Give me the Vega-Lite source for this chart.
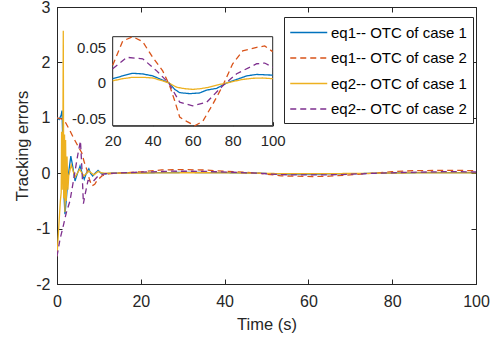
{
 "$schema": "https://vega.github.io/schema/vega-lite/v6.json",
 "width": 419, "height": 277,
 "autosize": {"type": "none"},
 "padding": {"left": 57, "top": 7, "right": 24, "bottom": 58},
 "background": "white",
 "config": {
  "view": {"stroke": "#262626", "strokeWidth": 1},
  "font": "Liberation Sans",
  "axis": {"domainColor": "#262626", "tickColor": "#262626", "labelColor": "#262626", "titleColor": "#262626", "grid": false, "labelFont": "Liberation Sans", "titleFont": "Liberation Sans", "labelFontSize": 16, "titleFontSize": 16.5, "titleFontWeight": "normal", "tickSize": -5, "labelPadding": 12, "labelFlush": false, "labelOverlap": false}
 },
 "data": {"values": [
  {"s":"eq1-- OTC of case 1","t":0,"e":1.0},{"s":"eq1-- OTC of case 1","t":0.5,"e":0.97},{"s":"eq1-- OTC of case 1","t":1.0,"e":1.05},{"s":"eq1-- OTC of case 1","t":1.2,"e":1.13},{"s":"eq1-- OTC of case 1","t":1.4,"e":0.5},{"s":"eq1-- OTC of case 1","t":1.6,"e":-0.3},{"s":"eq1-- OTC of case 1","t":1.9,"e":-0.74},{"s":"eq1-- OTC of case 1","t":2.2,"e":-0.5},{"s":"eq1-- OTC of case 1","t":2.6,"e":-0.1},{"s":"eq1-- OTC of case 1","t":3.3,"e":0.31},{"s":"eq1-- OTC of case 1","t":3.8,"e":0.1},{"s":"eq1-- OTC of case 1","t":4.3,"e":-0.14},{"s":"eq1-- OTC of case 1","t":4.9,"e":0.0},{"s":"eq1-- OTC of case 1","t":5.5,"e":0.13},{"s":"eq1-- OTC of case 1","t":6.0,"e":0.0},{"s":"eq1-- OTC of case 1","t":6.5,"e":-0.11},{"s":"eq1-- OTC of case 1","t":7.0,"e":0.0},{"s":"eq1-- OTC of case 1","t":7.6,"e":0.08},{"s":"eq1-- OTC of case 1","t":8.0,"e":0.0},{"s":"eq1-- OTC of case 1","t":8.5,"e":-0.05},{"s":"eq1-- OTC of case 1","t":9.1,"e":0.0},{"s":"eq1-- OTC of case 1","t":9.8,"e":0.05},{"s":"eq1-- OTC of case 1","t":10.5,"e":0.0},{"s":"eq1-- OTC of case 1","t":11.5,"e":-0.01},{"s":"eq1-- OTC of case 1","t":13,"e":0.0},{"s":"eq1-- OTC of case 1","t":16,"e":0.003},{"s":"eq1-- OTC of case 1","t":20,"e":0.006},{"s":"eq1-- OTC of case 1","t":25,"e":0.010},{"s":"eq1-- OTC of case 1","t":30,"e":0.0136},{"s":"eq1-- OTC of case 1","t":35,"e":0.0127},{"s":"eq1-- OTC of case 1","t":40,"e":0.010},{"s":"eq1-- OTC of case 1","t":45,"e":0.004},{"s":"eq1-- OTC of case 1","t":48.3,"e":0.0},{"s":"eq1-- OTC of case 1","t":51,"e":-0.009},{"s":"eq1-- OTC of case 1","t":53.5,"e":-0.0136},{"s":"eq1-- OTC of case 1","t":58.5,"e":-0.015},{"s":"eq1-- OTC of case 1","t":63.5,"e":-0.014},{"s":"eq1-- OTC of case 1","t":67,"e":-0.010},{"s":"eq1-- OTC of case 1","t":72,"e":-0.0075},{"s":"eq1-- OTC of case 1","t":77,"e":0.0},{"s":"eq1-- OTC of case 1","t":82,"e":0.005},{"s":"eq1-- OTC of case 1","t":87,"e":0.010},{"s":"eq1-- OTC of case 1","t":92,"e":0.012},{"s":"eq1-- OTC of case 1","t":100,"e":0.011},

  {"s":"eq1-- OTC of case 2","t":0,"e":1.0},{"s":"eq1-- OTC of case 2","t":0.5,"e":0.99},{"s":"eq1-- OTC of case 2","t":1.0,"e":0.98},{"s":"eq1-- OTC of case 2","t":1.5,"e":0.97},{"s":"eq1-- OTC of case 2","t":2,"e":0.92},{"s":"eq1-- OTC of case 2","t":3,"e":0.78},{"s":"eq1-- OTC of case 2","t":4,"e":0.63},{"s":"eq1-- OTC of case 2","t":5,"e":0.49},{"s":"eq1-- OTC of case 2","t":5.9,"e":0.37},{"s":"eq1-- OTC of case 2","t":6.5,"e":0.2},{"s":"eq1-- OTC of case 2","t":7.1,"e":0.07},{"s":"eq1-- OTC of case 2","t":7.7,"e":-0.1},{"s":"eq1-- OTC of case 2","t":8.3,"e":-0.23},{"s":"eq1-- OTC of case 2","t":9,"e":-0.2},{"s":"eq1-- OTC of case 2","t":9.5,"e":-0.14},{"s":"eq1-- OTC of case 2","t":10.7,"e":-0.05},{"s":"eq1-- OTC of case 2","t":12.3,"e":-0.01},{"s":"eq1-- OTC of case 2","t":14,"e":0.0},{"s":"eq1-- OTC of case 2","t":17,"e":0.012},{"s":"eq1-- OTC of case 2","t":20,"e":0.025},{"s":"eq1-- OTC of case 2","t":25,"e":0.059},{"s":"eq1-- OTC of case 2","t":30,"e":0.065},{"s":"eq1-- OTC of case 2","t":35,"e":0.058},{"s":"eq1-- OTC of case 2","t":40,"e":0.036},{"s":"eq1-- OTC of case 2","t":45,"e":0.017},{"s":"eq1-- OTC of case 2","t":48.5,"e":-0.004},{"s":"eq1-- OTC of case 2","t":51,"e":-0.025},{"s":"eq1-- OTC of case 2","t":53.5,"e":-0.048},{"s":"eq1-- OTC of case 2","t":57,"e":-0.054},{"s":"eq1-- OTC of case 2","t":61,"e":-0.06},{"s":"eq1-- OTC of case 2","t":65,"e":-0.054},{"s":"eq1-- OTC of case 2","t":70,"e":-0.03},{"s":"eq1-- OTC of case 2","t":75,"e":-0.004},{"s":"eq1-- OTC of case 2","t":80,"e":0.027},{"s":"eq1-- OTC of case 2","t":85,"e":0.045},{"s":"eq1-- OTC of case 2","t":92,"e":0.05},{"s":"eq1-- OTC of case 2","t":96,"e":0.052},{"s":"eq1-- OTC of case 2","t":100,"e":0.044},

  {"s":"eq2-- OTC of case 1","t":0,"e":-1.5},{"s":"eq2-- OTC of case 1","t":0.4,"e":-1.0},{"s":"eq2-- OTC of case 1","t":0.8,"e":-0.5},{"s":"eq2-- OTC of case 1","t":1.0,"e":-0.35},{"s":"eq2-- OTC of case 1","t":1.1,"e":0.75},{"s":"eq2-- OTC of case 1","t":1.25,"e":-0.3},{"s":"eq2-- OTC of case 1","t":1.4,"e":0.5},{"s":"eq2-- OTC of case 1","t":1.5,"e":2.57},{"s":"eq2-- OTC of case 1","t":1.6,"e":-0.45},{"s":"eq2-- OTC of case 1","t":1.8,"e":0.7},{"s":"eq2-- OTC of case 1","t":1.9,"e":-0.7},{"s":"eq2-- OTC of case 1","t":2.05,"e":0.6},{"s":"eq2-- OTC of case 1","t":2.2,"e":-0.5},{"s":"eq2-- OTC of case 1","t":2.4,"e":0.3},{"s":"eq2-- OTC of case 1","t":2.6,"e":-0.3},{"s":"eq2-- OTC of case 1","t":2.8,"e":-0.05},{"s":"eq2-- OTC of case 1","t":3.4,"e":0.15},{"s":"eq2-- OTC of case 1","t":4.3,"e":-0.07},{"s":"eq2-- OTC of case 1","t":5.4,"e":0.07},{"s":"eq2-- OTC of case 1","t":6.4,"e":-0.05},{"s":"eq2-- OTC of case 1","t":7.6,"e":0.04},{"s":"eq2-- OTC of case 1","t":8.8,"e":-0.03},{"s":"eq2-- OTC of case 1","t":9.8,"e":0.03},{"s":"eq2-- OTC of case 1","t":11,"e":0.0},{"s":"eq2-- OTC of case 1","t":15,"e":0.001},{"s":"eq2-- OTC of case 1","t":20,"e":0.003},{"s":"eq2-- OTC of case 1","t":25,"e":0.006},{"s":"eq2-- OTC of case 1","t":30,"e":0.008},{"s":"eq2-- OTC of case 1","t":35,"e":0.008},{"s":"eq2-- OTC of case 1","t":40,"e":0.007},{"s":"eq2-- OTC of case 1","t":45,"e":0.003},{"s":"eq2-- OTC of case 1","t":48,"e":0.0},{"s":"eq2-- OTC of case 1","t":52,"e":-0.006},{"s":"eq2-- OTC of case 1","t":56,"e":-0.008},{"s":"eq2-- OTC of case 1","t":60,"e":-0.009},{"s":"eq2-- OTC of case 1","t":64,"e":-0.008},{"s":"eq2-- OTC of case 1","t":68,"e":-0.006},{"s":"eq2-- OTC of case 1","t":72,"e":-0.003},{"s":"eq2-- OTC of case 1","t":77,"e":0.0},{"s":"eq2-- OTC of case 1","t":80,"e":0.002},{"s":"eq2-- OTC of case 1","t":85,"e":0.005},{"s":"eq2-- OTC of case 1","t":90,"e":0.0066},{"s":"eq2-- OTC of case 1","t":95,"e":0.007},{"s":"eq2-- OTC of case 1","t":100,"e":0.006},

  {"s":"eq2-- OTC of case 2","t":0,"e":-1.5},{"s":"eq2-- OTC of case 2","t":0.7,"e":-1.2},{"s":"eq2-- OTC of case 2","t":1.5,"e":-0.95},{"s":"eq2-- OTC of case 2","t":2.2,"e":-0.72},{"s":"eq2-- OTC of case 2","t":3.1,"e":-0.5},{"s":"eq2-- OTC of case 2","t":4,"e":-0.1},{"s":"eq2-- OTC of case 2","t":5,"e":0.35},{"s":"eq2-- OTC of case 2","t":5.6,"e":0.58},{"s":"eq2-- OTC of case 2","t":6.0,"e":0.0},{"s":"eq2-- OTC of case 2","t":6.3,"e":-0.55},{"s":"eq2-- OTC of case 2","t":6.8,"e":-0.35},{"s":"eq2-- OTC of case 2","t":7.4,"e":-0.13},{"s":"eq2-- OTC of case 2","t":8.6,"e":-0.15},{"s":"eq2-- OTC of case 2","t":9.8,"e":-0.05},{"s":"eq2-- OTC of case 2","t":11.5,"e":-0.01},{"s":"eq2-- OTC of case 2","t":14,"e":0.0},{"s":"eq2-- OTC of case 2","t":17,"e":0.01},{"s":"eq2-- OTC of case 2","t":20,"e":0.02},{"s":"eq2-- OTC of case 2","t":27,"e":0.036},{"s":"eq2-- OTC of case 2","t":35,"e":0.034},{"s":"eq2-- OTC of case 2","t":42,"e":0.017},{"s":"eq2-- OTC of case 2","t":48,"e":0.0},{"s":"eq2-- OTC of case 2","t":53.5,"e":-0.027},{"s":"eq2-- OTC of case 2","t":60,"e":-0.032},{"s":"eq2-- OTC of case 2","t":67,"e":-0.027},{"s":"eq2-- OTC of case 2","t":75,"e":-0.004},{"s":"eq2-- OTC of case 2","t":82,"e":0.013},{"s":"eq2-- OTC of case 2","t":92,"e":0.027},{"s":"eq2-- OTC of case 2","t":96,"e":0.028},{"s":"eq2-- OTC of case 2","t":100,"e":0.022}
 ]},
 "layer": [
  {
   "layer": [
    {
     "mark": {"type": "line", "strokeWidth": 1.3, "clip": true},
     "encoding": {
      "x": {"field": "t", "type": "quantitative", "scale": {"domain": [0, 100], "nice": false, "zero": false}, "axis": {"values": [0, 20, 40, 60, 80, 100], "title": "Time (s)", "labelPadding": 14, "titlePadding": 7}},
      "y": {"field": "e", "type": "quantitative", "scale": {"domain": [-2, 3], "nice": false, "zero": false}, "axis": {"values": [-2, -1, 0, 1, 2, 3], "title": "Tracking errors", "labelExpr": "replace(datum.label, '\u2212', '-')", "titlePadding": 5}},
      "color": {"field": "s", "type": "nominal", "scale": {"domain": ["eq1-- OTC of case 1", "eq1-- OTC of case 2", "eq2-- OTC of case 1", "eq2-- OTC of case 2"], "range": ["#0072BD", "#D95319", "#EDB120", "#7E2F8E"]},
       "legend": {"title": null, "orient": "none", "legendX": 227, "legendY": 10, "strokeColor": "#262626", "fillColor": "white", "padding": 5.5, "symbolType": "M-1,0H3", "symbolSize": 342, "symbolStrokeWidth": 1.3, "labelFontSize": 15, "labelFont": "Liberation Sans", "labelColor": "black", "rowPadding": 7.5, "labelOffset": 21.5, "labelLimit": 300}},
      "strokeDash": {"field": "s", "type": "nominal", "scale": {"domain": ["eq1-- OTC of case 1", "eq1-- OTC of case 2", "eq2-- OTC of case 1", "eq2-- OTC of case 2"], "range": [[1, 0], [6, 4], [1, 0], [6, 4]]},
       "legend": {"title": null, "orient": "none", "legendX": 227, "legendY": 10, "strokeColor": "#262626", "fillColor": "white", "padding": 5.5, "symbolType": "M-1,0H3", "symbolSize": 342, "symbolStrokeWidth": 1.3, "labelFontSize": 15, "labelFont": "Liberation Sans", "labelColor": "black", "rowPadding": 7.5, "labelOffset": 21.5, "labelLimit": 300}}
     }
    },
    {
     "mark": {"type": "point", "opacity": 0},
     "encoding": {
      "x": {"field": "t", "type": "quantitative", "axis": {"orient": "top", "values": [0, 20, 40, 60, 80, 100], "labels": false, "title": null, "domain": false}},
      "y": {"field": "e", "type": "quantitative", "axis": {"orient": "right", "values": [-2, -1, 0, 1, 2, 3], "labels": false, "title": null, "domain": false}}
     }
    }
   ],
   "resolve": {"axis": {"x": "independent", "y": "independent"}}
  },
  {
   "layer": [
    {
     "data": {"values": [{}]},
     "mark": {"type": "rect", "fill": "white", "stroke": "#262626", "strokeWidth": 1},
     "encoding": {
      "x": {"datum": 20, "type": "quantitative", "scale": {"domain": [20, 100], "range": [55.7, 215.7], "nice": false, "zero": false}, "axis": {"orient": "bottom", "offset": -158.3, "values": [20, 40, 60, 80, 100], "title": null, "tickSize": -4, "labelPadding": 12, "labelFontSize": 15}},
      "x2": {"datum": 100},
      "y": {"datum": -0.06, "type": "quantitative", "scale": {"domain": [-0.06, 0.065], "range": [118.7, 29.7], "nice": false, "zero": false}, "axis": {"orient": "left", "offset": -55.7, "values": [-0.05, 0, 0.05], "title": null, "tickSize": -4, "labelPadding": 11, "labelFontSize": 15, "labelExpr": "replace(format(datum.value, '.2~f'), '\u2212', '-')"}},
      "y2": {"datum": 0.065}
     }
    },
    {
     "transform": [{"filter": "datum.t >= 20"}],
     "mark": {"type": "line", "strokeWidth": 1.3},
     "encoding": {
      "x": {"field": "t", "type": "quantitative", "scale": {"domain": [20, 100], "range": [55.7, 215.7], "nice": false, "zero": false}, "axis": {"orient": "bottom", "offset": -158.3, "values": [20, 40, 60, 80, 100], "title": null, "tickSize": -4, "labelPadding": 12, "labelFontSize": 15}},
      "y": {"field": "e", "type": "quantitative", "scale": {"domain": [-0.06, 0.065], "range": [118.7, 29.7], "nice": false, "zero": false}, "axis": {"orient": "left", "offset": -55.7, "values": [-0.05, 0, 0.05], "title": null, "tickSize": -4, "labelPadding": 11, "labelFontSize": 15, "labelExpr": "replace(format(datum.value, '.2~f'), '\u2212', '-')"}},
      "color": {"field": "s", "type": "nominal"},
      "strokeDash": {"field": "s", "type": "nominal"}
     }
    }
   ]
  }
 ],
 "resolve": {"scale": {"x": "independent", "y": "independent"}, "axis": {"x": "independent", "y": "independent"}}
}
